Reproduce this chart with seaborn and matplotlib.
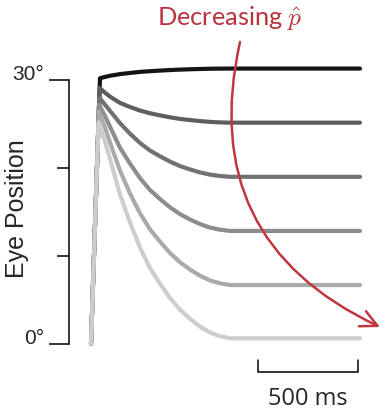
import numpy as np
import pandas as pd
import seaborn as sns
import matplotlib.pyplot as plt

# time (ms) after saccade onset; each trace starts at 0 deg at start_time,
# peaks at its own peak time, then decays at the shared sample times
start_time = 5
peak_times = [50, 48, 46.5, 45.5, 44.3, 42.6]
times = [75, 100, 150, 200, 250, 300, 350, 400, 450, 500, 550, 600, 650, 700, 1350]

# eye position (deg), darkest trace first; first value is the peak
trace_1 = [30.2, 30.35, 30.48, 30.67, 30.8, 30.92, 31.0, 31.07, 31.13, 31.18, 31.22, 31.25, 31.28, 31.29, 31.3, 31.3]
trace_2 = [29.1, 28.55, 28.11, 27.4, 26.93, 26.53, 26.22, 25.98, 25.76, 25.58, 25.45, 25.33, 25.24, 25.18, 25.15, 25.15]
trace_3 = [28.0, 27.2, 26.5, 25.1, 23.9, 22.85, 21.98, 21.33, 20.73, 20.22, 19.84, 19.5, 19.25, 19.09, 19.0, 19.0]
trace_4 = [27.2, 25.9, 24.7, 22.3, 20.5, 18.85, 17.5, 16.47, 15.53, 14.76, 14.15, 13.63, 13.23, 12.99, 12.85, 12.85]
trace_5 = [26.4, 24.6, 22.9, 19.7, 17.1, 14.85, 13.02, 11.63, 10.34, 9.29, 8.46, 7.76, 7.22, 6.89, 6.7, 6.7]
trace_6 = [25.2, 23.0, 21.0, 17.0, 13.8, 10.95, 8.62, 6.86, 5.23, 3.9, 2.87, 1.98, 1.3, 0.89, 0.65, 0.65]
traces = [trace_1, trace_2, trace_3, trace_4, trace_5, trace_6]
trace_colors = ["#141414", "#5e5e5e", "#717171", "#8d8d8d", "#aaaaaa", "#cdcdcd"]

ytick_labels = ["0°", "30°"]
scale_bar_ms = 500

rows = []
for i, (tp, tr) in enumerate(zip(peak_times, traces)):
    ts = [start_time, tp] + times
    vs = [0.0] + tr
    for k, (t, v) in enumerate(zip(ts, vs)):
        rows.append({"time": t, "pos": v, "trace": i, "step": k})
df = pd.DataFrame(rows)

sns.set_style("white")
plt.rcParams["mathtext.fontset"] = "cm"

fig = plt.figure(figsize=(3.88, 4.13), dpi=100)
ax = fig.add_axes([69 / 388, 0, 1 - 69 / 388, 1])

# darkest drawn first, lightest ends on top (shared rise looks light at the base)
sns.lineplot(
    data=df, x="time", y="pos", hue="trace", hue_order=list(range(len(traces))),
    palette={i: c for i, c in enumerate(trace_colors)},
    estimator=None, sort=False, units="trace", linewidth=3,
    legend=False, ax=ax,
)

ax.set_xlim(-105, 1490)
ax.set_ylim(-7.84, 39.09)
ax.set_xticks([])
ax.set_xlabel("")
ax.set_ylabel("")
sns.despine(ax=ax, bottom=True)
ax.spines["left"].set_bounds(0, 30)
ax.spines["left"].set_linewidth(1.1)
ax.spines["left"].set_color("black")

ax.set_yticks([0, 30])
ax.set_yticklabels(ytick_labels, fontsize=15, family="Liberation Sans")
ax.set_yticks([10, 20], minor=True)
ax.tick_params(axis="y", which="major", direction="out", length=14.5, width=1.1,
               pad=3.5, left=True, color="black")
ax.tick_params(axis="y", which="minor", direction="out", length=9, width=1.1,
               left=True, color="black")
for lab in ax.get_yticklabels():
    lab.set_verticalalignment("baseline")

fig.text(17.5 / 388, 1 - 209 / 413, "Eye Position", rotation=90, ha="center",
         va="center", fontsize=18, family="Liberation Sans")

# scale bar
bar_end = times[-1] - 10
bar_start = bar_end - scale_bar_ms
ax.plot([bar_start, bar_start, bar_end, bar_end], [-1.82, -3.18, -3.18, -1.82],
        color="black", lw=1.1, clip_on=False)
ax.text((bar_start + bar_end) / 2, -6.93, f"{scale_bar_ms} ms", ha="center",
        va="baseline", fontsize=17, family="Open Sans")

# red curved arrow and label
red = "#c0373f"
ax.annotate("", xy=(380, 86), xytext=(240, 371), xycoords="figure pixels",
            textcoords="figure pixels", annotation_clip=False,
            arrowprops=dict(arrowstyle="->,head_length=0.6,head_width=0.3",
                            connectionstyle="arc3,rad=0.4", color=red, lw=1.8,
                            shrinkA=0, shrinkB=0, mutation_scale=20), zorder=10)
fig.text(157 / 388, 1 - 25 / 413, r"Decreasing $\hat{p}$", ha="left",
         va="baseline", fontsize=18.3, family="Lato", color="#b8333b")

fig.savefig("out.png", dpi=100)
